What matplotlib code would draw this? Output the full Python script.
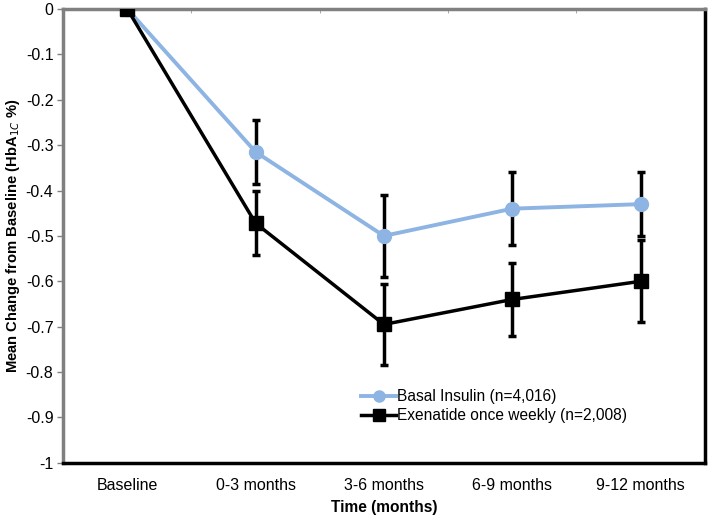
import numpy as np
import matplotlib
matplotlib.use("Agg")
import matplotlib.pyplot as plt

plt.rcParams['font.family'] = ['Liberation Sans', 'DejaVu Sans']

categories = ["Baseline", "0-3 months", "3-6 months", "6-9 months", "9-12 months"]
basal = [0, -0.315, -0.50, -0.44, -0.43]
basal_err = [0, 0.07, 0.09, 0.08, 0.07]
exen = [0, -0.472, -0.695, -0.64, -0.60]
exen_err = [0, 0.07, 0.09, 0.08, 0.09]

x = np.arange(len(categories))

fig = plt.figure(figsize=(7.09, 5.26), dpi=100)
ax = fig.add_axes([0.089, 0.12, 0.905, 0.863])

# error bars first (black for both series)
ax.errorbar(x[1:], basal[1:], yerr=basal_err[1:], fmt='none', ecolor='black',
            elinewidth=2.5, capsize=3, capthick=2.5, zorder=2)
ax.errorbar(x[1:], exen[1:], yerr=exen_err[1:], fmt='none', ecolor='black',
            elinewidth=2.5, capsize=3, capthick=2.5, zorder=2)

ax.plot(x, basal, color='#8DB4E2', lw=2.8, marker='o', ms=10,
        label='Basal Insulin (n=4,016)', zorder=3)
ax.plot(x, exen, color='black', lw=2.5, marker='s', ms=10,
        label='Exenatide once weekly (n=2,008)', zorder=4)

ax.set_xlim(-0.5, 4.5)
ax.set_ylim(-1, 0)
ax.set_yticks(np.arange(-1, 0.01, 0.1))
ax.set_yticklabels(['-1', '-0.9', '-0.8', '-0.7', '-0.6', '-0.5', '-0.4',
                    '-0.3', '-0.2', '-0.1', '0'])
ax.set_xticks(x)
ax.set_xticklabels(categories)
ax.tick_params(axis='x', length=0, pad=11, labelsize=11.5)
ax.tick_params(axis='y', length=4, width=1, color='#808080', labelsize=11.5, pad=3)
ax.set_xticks(x[:-1] + 0.5, minor=True)
ax.tick_params(axis='x', which='minor', top=True, bottom=False, direction='in',
               length=3, color='#999999')

for side in ['left', 'top']:
    ax.spines[side].set_color('#808080')
    ax.spines[side].set_linewidth(2.5)
for side in ['right', 'bottom']:
    ax.spines[side].set_color('black')
    ax.spines[side].set_linewidth(2.5)

ax.set_xlabel('Time (months)', fontweight='bold', fontsize=11.2, labelpad=5)
ax.set_ylabel('Mean Change from Baseline (HbA$_{1C}$ %)', fontweight='bold',
              fontsize=10.6)
ax.yaxis.set_label_coords(-0.064, 0.5)

leg = ax.legend(loc='upper left', bbox_to_anchor=(0.465, 0.162), frameon=False,
                fontsize=11.2, handlelength=2.2, handletextpad=0.1,
                labelspacing=0.25, borderaxespad=0, borderpad=0)
for h in leg.legend_handles:
    h.set_markersize(8)

fig.savefig('out.png', dpi=100)
